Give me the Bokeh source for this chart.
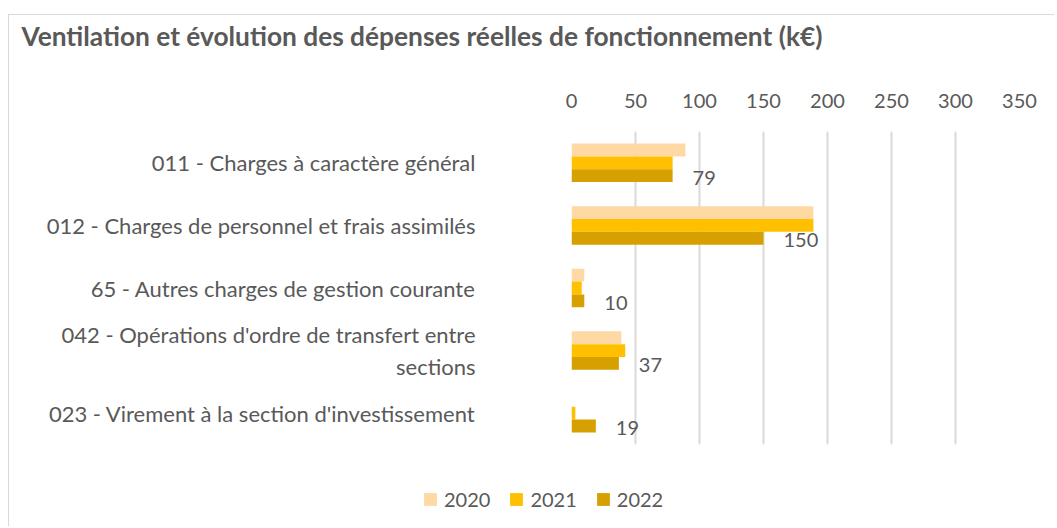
from bokeh.plotting import figure
from bokeh.models import FactorRange, ColumnDataSource, Legend, LegendItem, FixedTicker, Label
from bokeh.transform import dodge
from bokeh.embed import file_html
from bokeh.resources import INLINE
from bokeh.core.properties import value

title_text = "Ventilation et évolution des dépenses réelles de fonctionnement (k€)"
categories = [
    "011 - Charges à caractère général",
    "012 - Charges de personnel et frais assimilés",
    "65 - Autres charges de gestion courante",
    "042 - Opérations d'ordre de transfert entre\nsections",
    "023 - Virement à la section d'investissement",
]
years = ["2020", "2021", "2022"]
v2020 = [89, 189, 10, 39, 0]
v2021 = [79, 189, 8, 42, 3]
v2022 = [79, 150, 10, 37, 19]
x_ticks = [0, 50, 100, 150, 200, 250, 300, 350]

colors = ["#FFD9A3", "#FFC000", "#D5A000"]
FONT = "Lato"
TXT = "#595959"
W = 1046
BORDER = "1px solid #D9D9D9"

# ---- title strip ----
pt = figure(width=W, height=50, output_backend="svg", toolbar_location=None,
            x_range=(0, 1), y_range=(0, 1), x_axis_type=None, y_axis_type=None,
            min_border=0, outline_line_color=None, border_fill_color="white")
pt.grid.visible = False
pt.add_layout(Label(x=12, y=30, x_units="screen", y_units="screen", text=title_text,
                    text_font=FONT, text_font_style="bold", text_font_size="26.3px",
                    text_color=TXT, text_baseline="middle", text_align="left"))
pt.styles = {"border-left": BORDER, "border-top": BORDER,
             "margin-top": "14px", "margin-left": "8px"}

# ---- main chart ----
src = ColumnDataSource(dict(cat=categories, v2020=v2020, v2021=v2021, v2022=v2022,
                            lab2022=[str(v) for v in v2022]))

p = figure(width=W, height=390, output_backend="svg", toolbar_location=None,
           y_range=FactorRange(factors=list(reversed(categories)), range_padding=0),
           x_range=(0, 350), x_axis_location="above",
           min_border_left=562, min_border_right=36, min_border_top=67, min_border_bottom=10,
           outline_line_color=None, border_fill_color="white", background_fill_color="white")
p.styles = {"border-left": BORDER, "margin-left": "8px"}

bw = 0.205
offs = [bw, 0, -bw]
for yr, col, off in zip(years, colors, offs):
    p.hbar(y=dodge("cat", off, range=p.y_range), left=0, right="v" + yr, height=bw,
           color=col, line_color=None, source=src)

p.text(x="v2022", y=dodge("cat", -bw, range=p.y_range), text="lab2022", source=src,
       x_offset=20, y_offset=2, text_align="left", text_baseline="middle",
       text_font=value(FONT), text_font_size="20px", text_color=TXT)

xa = p.xaxis[0]
xa.ticker = FixedTicker(ticks=x_ticks)
xa.axis_line_color = None
xa.major_tick_line_color = None
xa.minor_tick_line_color = None
xa.major_label_standoff = 18
xa.major_label_text_font = FONT
xa.major_label_text_font_size = "20px"
xa.major_label_text_color = TXT

ya = p.yaxis[0]
ya.axis_line_color = None
ya.major_tick_line_color = None
ya.minor_tick_line_color = None
ya.major_tick_out = 0
ya.major_label_standoff = 96
ya.major_label_text_font = FONT
ya.major_label_text_font_size = "22px"
ya.major_label_text_color = TXT

p.xgrid.grid_line_color = "#D9D9D9"
p.xgrid.grid_line_width = 2
p.ygrid.grid_line_color = None

# ---- legend strip ----
pl = figure(width=W, height=72, output_backend="svg", toolbar_location=None,
            x_range=(0, 1), y_range=(0, 1), x_axis_type=None, y_axis_type=None,
            min_border=0, outline_line_color=None, border_fill_color="white")
pl.grid.visible = False
nan = float("nan")
lrs = [pl.hbar(y=[nan], left=[nan], right=[nan], height=1, fill_color=c, line_color=None)
       for c in colors]
legend = Legend(items=[LegendItem(label=y, renderers=[r]) for y, r in zip(years, lrs)],
                orientation="horizontal", location=(413, 15),
                glyph_width=16, glyph_height=16, label_standoff=6, spacing=18,
                label_text_font=FONT, label_text_font_size="20px", label_text_color=TXT,
                border_line_color=None, background_fill_alpha=0, padding=0, margin=0)
pl.add_layout(legend, "center")
pl.styles = {"border-left": BORDER, "margin-left": "8px"}

open("out.html", "w").write(file_html([pt, p, pl], INLINE))
